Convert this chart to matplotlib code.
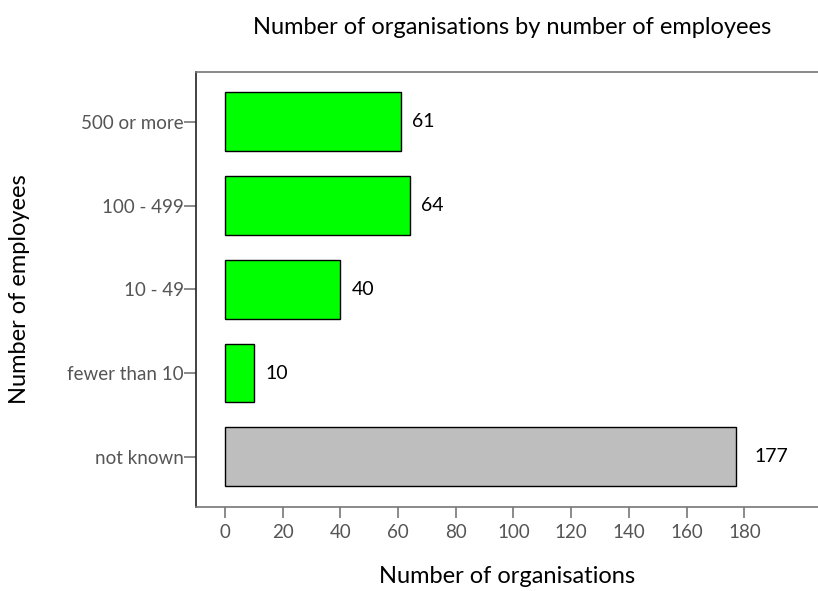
import matplotlib
matplotlib.use('Agg')
import matplotlib.pyplot as plt

plt.rcParams['font.family'] = ['Lato', 'DejaVu Sans']

# Organisations per size band (bottom to top on the chart)
categories = ['not known', 'fewer than 10', '10 - 49', '100 - 499', '500 or more']
counts = [177, 10, 40, 64, 61]
bar_colors = ['#bebebe', '#00ff00', '#00ff00', '#00ff00', '#00ff00']
xticks = [0, 20, 40, 60, 80, 100, 120, 140, 160, 180]

fig = plt.figure(figsize=(8.18, 5.91), dpi=100)
ax = fig.add_axes([0.2402, 0.1421, 0.7598, 0.7369])

ypos = range(len(categories))
ax.barh(ypos, counts, height=0.7, color=bar_colors, edgecolor='black', linewidth=1)

# value labels right of each bar
for y, v in zip(ypos, counts):
    ax.text(v + 4 + (2.5 if v > 100 else 0), y, str(v), va='center', ha='left',
            fontsize=14, color='black')

ax.set_xlim(-9.8, 205.5)
ax.set_ylim(-0.6, 4.6)
ax.set_yticks(list(ypos))
ax.set_yticklabels(categories)
ax.set_xticks(xticks)

ax.spines['right'].set_visible(False)
ax.spines['left'].set_color('#222222')
ax.spines['top'].set_color('#777777')
ax.spines['bottom'].set_color('#777777')
for s in ax.spines.values():
    s.set_linewidth(1.2)

ax.tick_params(axis='both', colors='#777777', labelcolor='#555555', labelsize=13.5,
               width=1.2, direction='out')
ax.tick_params(axis='x', length=8, pad=4)
ax.tick_params(axis='y', length=9, pad=0)

fig.text(512 / 818, 1 - 27 / 591, 'Number of organisations by number of employees',
         fontsize=17, ha='center', va='center', color='black')
ax.set_xlabel('Number of organisations', fontsize=17)
ax.xaxis.set_label_coords(0.5, -0.135)
ax.set_ylabel('Number of employees', fontsize=17)
ax.yaxis.set_label_coords(-0.268, 0.5)

fig.savefig('out.png', dpi=100)
